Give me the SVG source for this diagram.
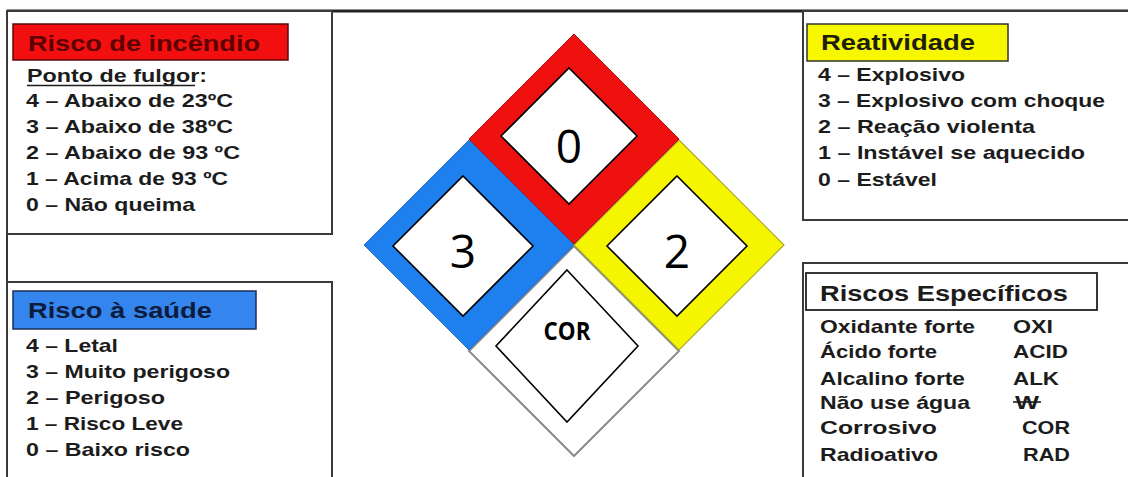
<svg xmlns="http://www.w3.org/2000/svg" width="1128" height="477" viewBox="0 0 1128 477">
<style>
.box{fill:#fff;stroke:#3a3a3a;stroke-width:2}
.t{font-family:"Liberation Sans",Arial,sans-serif;font-weight:bold;font-size:18.5px;fill:#1c1c1c}
.h{font-family:"Liberation Sans",Arial,sans-serif;font-weight:bold;font-size:22px}
.inner{fill:#fff;stroke:#000;stroke-width:1.6}
.num{font-family:"Open Sans","Noto Sans",sans-serif;font-size:46px;fill:#000;text-anchor:middle}
</style>
<rect width="1128" height="477" fill="#fff"/>
<g id="frame">
<line x1="7" y1="11" x2="1128" y2="11" stroke="#222" stroke-width="3"/>
<line x1="7" y1="10" x2="7" y2="477" stroke="#333" stroke-width="2"/>
</g>
<g id="fire-box">
<rect class="box" x="7" y="11" width="325" height="223"/>
<rect x="13" y="24" width="275" height="36" fill="#f20f0f" stroke="#5a0a0a" stroke-width="1.5"/>
<text class="h" x="28" y="51" fill="#5c0000" textLength="232" lengthAdjust="spacingAndGlyphs">Risco de incêndio</text>
<text class="t" x="27" y="82" textLength="180" lengthAdjust="spacingAndGlyphs">Ponto de fulgor:</text>
<line x1="27" y1="85.5" x2="195" y2="85.5" stroke="#1c1c1c" stroke-width="1.6"/>
<text class="t" x="26" y="107" textLength="207" lengthAdjust="spacingAndGlyphs">4 – Abaixo de 23ºC</text>
<text class="t" x="26" y="133" textLength="207" lengthAdjust="spacingAndGlyphs">3 – Abaixo de 38ºC</text>
<text class="t" x="26" y="159" textLength="214" lengthAdjust="spacingAndGlyphs">2 – Abaixo de 93 ºC</text>
<text class="t" x="26" y="185" textLength="202" lengthAdjust="spacingAndGlyphs">1 – Acima de 93 ºC</text>
<text class="t" x="26" y="211" textLength="169" lengthAdjust="spacingAndGlyphs">0 – Não queima</text>
</g>
<g id="health-box">
<rect class="box" x="7" y="282" width="325" height="200"/>
<rect x="13" y="291" width="243" height="38" fill="#3585ee" stroke="#1d2f55" stroke-width="1.5"/>
<text class="h" x="28" y="318" fill="#0d1c3c" textLength="184" lengthAdjust="spacingAndGlyphs">Risco à saúde</text>
<text class="t" x="26" y="352" textLength="92" lengthAdjust="spacingAndGlyphs">4 – Letal</text>
<text class="t" x="26" y="378" textLength="204" lengthAdjust="spacingAndGlyphs">3 – Muito perigoso</text>
<text class="t" x="26" y="404" textLength="139" lengthAdjust="spacingAndGlyphs">2 – Perigoso</text>
<text class="t" x="26" y="430" textLength="157" lengthAdjust="spacingAndGlyphs">1 – Risco Leve</text>
<text class="t" x="26" y="456" textLength="164" lengthAdjust="spacingAndGlyphs">0 – Baixo risco</text>
</g>
<g id="reactivity-box">
<rect class="box" x="803" y="11" width="330" height="209"/>
<rect x="807" y="24" width="201" height="37" fill="#f7f700" stroke="#333" stroke-width="1.5"/>
<text class="h" x="821" y="50" fill="#1e1e10" textLength="154" lengthAdjust="spacingAndGlyphs">Reatividade</text>
<text class="t" x="818" y="81" textLength="147" lengthAdjust="spacingAndGlyphs">4 – Explosivo</text>
<text class="t" x="818" y="107" textLength="287" lengthAdjust="spacingAndGlyphs">3 – Explosivo com choque</text>
<text class="t" x="818" y="133" textLength="217" lengthAdjust="spacingAndGlyphs">2 – Reação violenta</text>
<text class="t" x="818" y="159" textLength="267" lengthAdjust="spacingAndGlyphs">1 – Instável se aquecido</text>
<text class="t" x="818" y="186" textLength="119" lengthAdjust="spacingAndGlyphs">0 – Estável</text>
</g>
<g id="specific-box">
<rect class="box" x="803" y="263" width="330" height="220"/>
<rect x="806" y="273" width="291" height="37" fill="#fff" stroke="#222" stroke-width="1.8"/>
<text class="h" x="820" y="301" fill="#1c1c1c" textLength="248" lengthAdjust="spacingAndGlyphs">Riscos Específicos</text>
<text class="t" x="820" y="333" textLength="155" lengthAdjust="spacingAndGlyphs">Oxidante forte</text>
<text class="t" x="1013" y="333" textLength="40" lengthAdjust="spacingAndGlyphs">OXI</text>
<text class="t" x="820" y="358" textLength="117" lengthAdjust="spacingAndGlyphs">Ácido forte</text>
<text class="t" x="1013" y="358" textLength="55" lengthAdjust="spacingAndGlyphs">ACID</text>
<text class="t" x="820" y="385" textLength="145" lengthAdjust="spacingAndGlyphs">Alcalino forte</text>
<text class="t" x="1013" y="385" textLength="46" lengthAdjust="spacingAndGlyphs">ALK</text>
<text class="t" x="820" y="409" textLength="150" lengthAdjust="spacingAndGlyphs">Não use água</text>
<text class="t" x="1015" y="409" textLength="24" lengthAdjust="spacingAndGlyphs">W</text>
<line x1="1013" y1="402" x2="1041" y2="402" stroke="#1c1c1c" stroke-width="1.6"/>
<text class="t" x="820" y="434" textLength="117" lengthAdjust="spacingAndGlyphs">Corrosivo</text>
<text class="t" x="1022" y="434" textLength="48" lengthAdjust="spacingAndGlyphs">COR</text>
<text class="t" x="820" y="461" textLength="118" lengthAdjust="spacingAndGlyphs">Radioativo</text>
<text class="t" x="1023" y="461" textLength="47" lengthAdjust="spacingAndGlyphs">RAD</text>
</g>
<g id="diamond-special">
<polygon points="574,246 679,351 574,456 469,351" fill="#fff" stroke="#8a8a8a" stroke-width="2"/>
<polygon class="inner" points="567,270 638,346 567,422 496,346"/>
<text x="567" y="340" font-family="'Open Sans','Noto Sans',sans-serif" font-weight="bold" font-size="25" fill="#000" text-anchor="middle" textLength="47" lengthAdjust="spacingAndGlyphs">COR</text>
</g>
<g id="diamond-health">
<polygon points="469,140 574,245 469,350 364,245" fill="#1d80ee" stroke="#2a6cc0" stroke-width="1"/>
<polygon class="inner" points="463,176 533,246 463,316 393,246"/>
<text class="num" x="463" y="268">3</text>
</g>
<g id="diamond-reactivity">
<polygon points="679,140 784,245 679,350 574,245" fill="#f5f500" stroke="#a8a830" stroke-width="1.2"/>
<polygon class="inner" points="677,176 747,246 677,316 607,246"/>
<text class="num" x="677" y="268">2</text>
</g>
<g id="diamond-fire">
<polygon points="574,34 679,139 574,244 469,139" fill="#ef1010" stroke="#b01010" stroke-width="1"/>
<polygon class="inner" points="569,68 637,136 569,204 501,136"/>
<text class="num" x="569" y="163">0</text>
</g>
<g id="connectors"/>
</svg>
